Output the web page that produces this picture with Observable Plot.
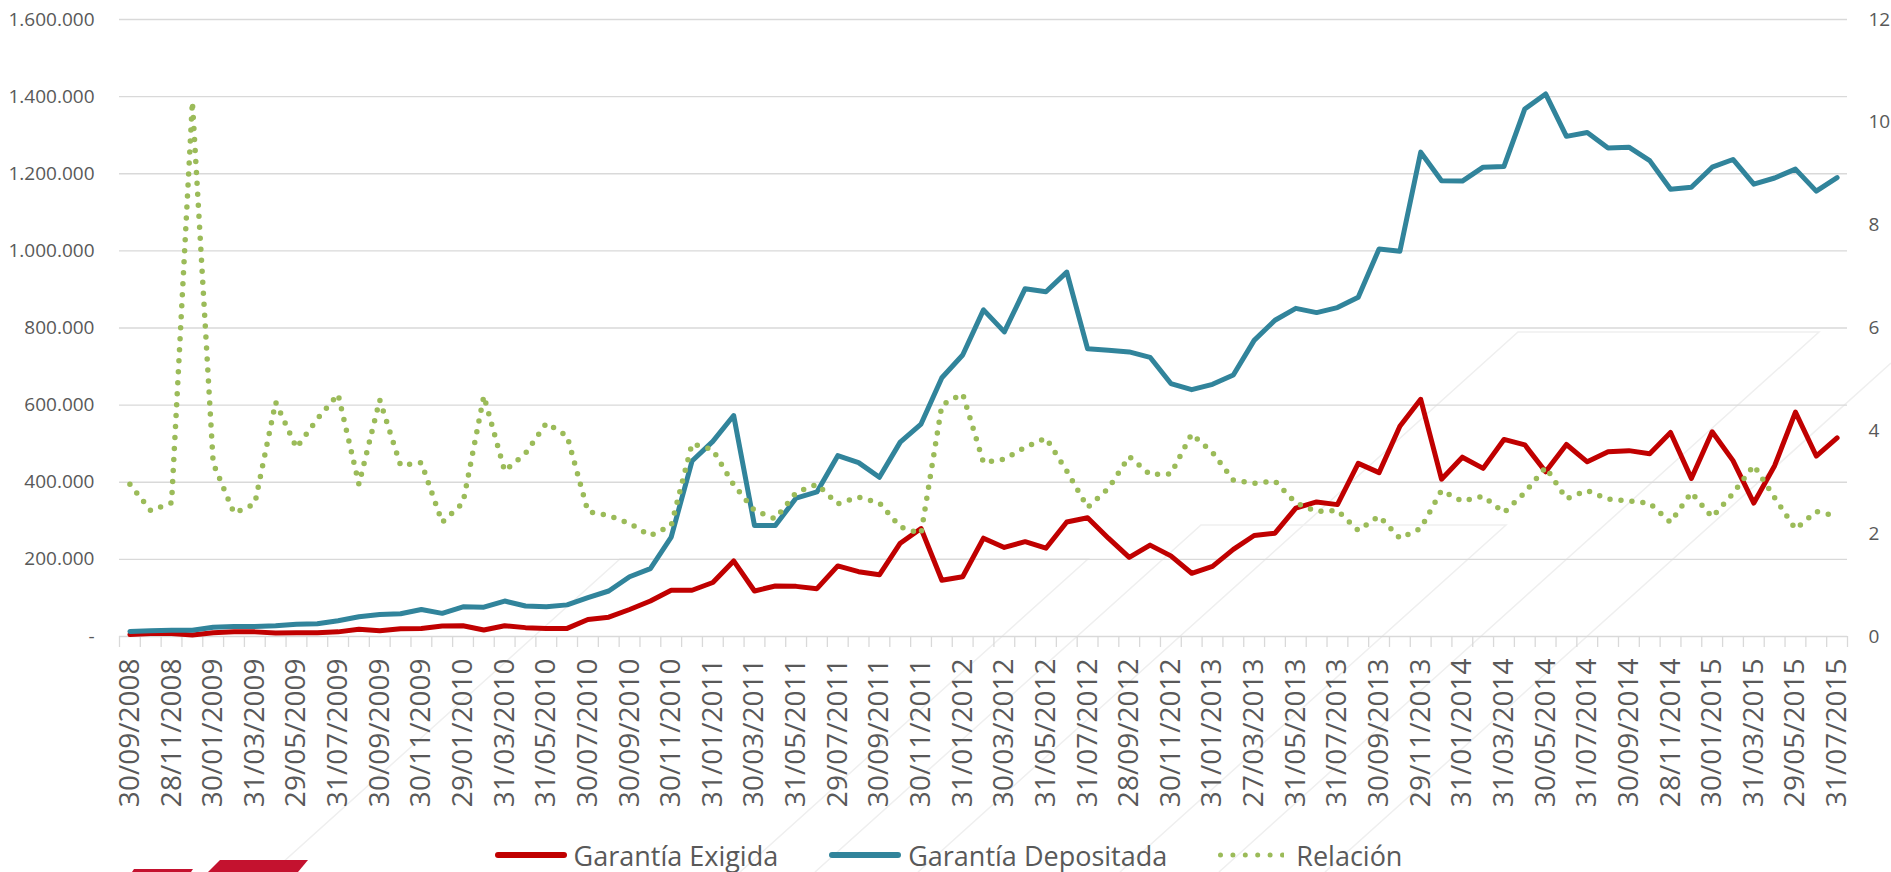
<!DOCTYPE html>
<html>
<head>
<meta charset="utf-8">
<script src="https://cdn.jsdelivr.net/npm/d3@7"></script>
<script src="https://cdn.jsdelivr.net/npm/@observablehq/plot@0.6"></script>
<style>
  html, body { margin: 0; padding: 0; background: #ffffff; }
  body { width: 1891px; height: 872px; overflow: hidden; position: relative; font-family: "Open Sans", sans-serif; }
  #chart { position: relative; }
  #chart svg { display: block; }
  #legend { position: relative; display: flex; justify-content: center; align-items: center; gap: 51px; height: 36px; padding-top: 5px; padding-left: 6px;
            font-size: 27px; color: #595959; font-family: "Open Sans", sans-serif; }
  #legend .item { display: flex; align-items: center; white-space: nowrap; }
  #legend svg { display: block; }
  .deco { position: absolute; left: 0; top: 0; pointer-events: none; }
</style>
</head>
<body>
<svg class="deco" id="watermark" width="1891" height="872" viewBox="0 0 1891 872">
  <g fill="none" stroke="#efefef" stroke-width="1.5">
    <polyline points="918,872 1518,332 1819,332 1219,872"></polyline>
    <polyline points="815,872 1201,525 1506,525 1120,872"></polyline>
    <polyline points="272,872 620,559 1088,559 740,872"></polyline>
    <polyline points="1891,363 1325,872"></polyline>
  </g>
</svg>
<div id="chart"></div>
<div id="legend"></div>
<svg class="deco" id="logo" width="1891" height="872" viewBox="0 0 1891 872">
  <polygon points="134,869 193,869 191,872 132,872" fill="#c4122f"></polygon>
  <polygon points="220,860 308,860 298,872 208,872" fill="#c4122f"></polygon>
</svg>
<script>
// ---- Category labels (month-end dates) ----
const dates = [
  "30/09/2008","31/10/2008","28/11/2008","31/12/2008","30/01/2009","27/02/2009","31/03/2009","30/04/2009",
  "29/05/2009","30/06/2009","31/07/2009","31/08/2009","30/09/2009","30/10/2009","30/11/2009","31/12/2009",
  "29/01/2010","26/02/2010","31/03/2010","30/04/2010","31/05/2010","30/06/2010","30/07/2010","31/08/2010",
  "30/09/2010","29/10/2010","30/11/2010","31/12/2010","31/01/2011","28/02/2011","30/03/2011","29/04/2011",
  "31/05/2011","30/06/2011","29/07/2011","31/08/2011","30/09/2011","31/10/2011","30/11/2011","30/12/2011",
  "31/01/2012","29/02/2012","30/03/2012","30/04/2012","31/05/2012","29/06/2012","31/07/2012","31/08/2012",
  "28/09/2012","31/10/2012","30/11/2012","31/12/2012","31/01/2013","28/02/2013","27/03/2013","30/04/2013",
  "31/05/2013","28/06/2013","31/07/2013","30/08/2013","30/09/2013","31/10/2013","29/11/2013","31/12/2013",
  "31/01/2014","28/02/2014","31/03/2014","30/04/2014","30/05/2014","30/06/2014","31/07/2014","29/08/2014",
  "30/09/2014","31/10/2014","28/11/2014","31/12/2014","30/01/2015","27/02/2015","31/03/2015","30/04/2015",
  "29/05/2015","30/06/2015","31/07/2015"
];

// ---- Series values ----
const garantiaExigida = [
  5000, 8000, 8000, 4000, 10000, 12000, 12000, 9000, 10000, 10000, 12000, 19000, 15000, 20000, 21000, 27000,
  28000, 17000, 28000, 23000, 21000, 21000, 44000, 50000, 70000,
  92000, 120000, 120000, 140000, 196000, 118000, 131000, 130000, 124000, 183000, 168000, 160000, 242000, 280000,
  146000, 155000, 255000, 231000, 246000, 229000, 297000, 308000, 255000, 205000, 237000, 209000, 164000, 182000,
  226000, 262000,
  268000, 333000, 349000, 342000, 449000, 425000, 545000, 615000, 408000, 465000, 436000, 511000, 497000, 427000,
  498000, 453000, 479000, 482000, 474000, 529000, 410000, 531000, 456000, 346000, 443000, 582000, 468000, 515000
];
const garantiaDepositada = [
  13000, 15000, 16000, 16000, 24000, 26000, 26000, 28000, 32000, 33000, 41000, 51000, 57000, 59000, 70000, 60000,
  77000, 76000, 92000, 79000, 77000, 82000, 101000, 118000, 155000,
  176000, 258000, 455000, 506000, 573000, 288000, 288000, 359000, 375000, 469000, 451000, 413000, 504000, 551000,
  671000, 730000, 847000, 790000, 902000, 894000, 945000, 746000, 742000, 738000, 724000, 656000, 640000, 654000,
  678000, 768000,
  820000, 851000, 840000, 853000, 880000, 1005000, 999000, 1256000, 1182000, 1181000, 1217000, 1219000, 1368000,
  1407000, 1297000, 1307000, 1267000, 1269000, 1234000, 1160000, 1165000, 1217000, 1237000, 1173000, 1189000,
  1212000, 1155000, 1190000
];
const relacion = [
  2.96, 2.45, 2.6, 10.4, 3.37, 2.4, 2.58, 4.56, 3.67, 4.23, 4.71, 2.96, 4.6, 3.33, 3.38, 2.22,
  2.6, 4.68, 3.22, 3.56, 4.15, 3.9, 2.43, 2.35, 2.2,
  1.96, 2.16, 3.75, 3.63, 2.95, 2.45, 2.29, 2.8, 2.96, 2.58, 2.71, 2.6, 2.13, 2.0, 4.5, 4.72, 3.38, 3.45, 3.68,
  3.86, 3.22, 2.51, 2.88, 3.5, 3.15, 3.16, 3.94, 3.58, 3.04, 2.98,
  3.02, 2.6, 2.43, 2.45, 2.06, 2.34, 1.91, 2.1, 2.84, 2.63, 2.73, 2.41, 2.8, 3.29, 2.68, 2.84, 2.67, 2.64, 2.59,
  2.22, 2.8, 2.32, 2.78, 3.33, 2.7, 2.09, 2.43, 2.34
];

// ---- Axis ticks ----
const leftTicks = [0, 200000, 400000, 600000, 800000, 1000000, 1200000, 1400000, 1600000];
const rightTicks = [0, 2, 4, 6, 8, 10, 12];

const seriesNames = ["Garantía Exigida", "Garantía Depositada", "Relación"];
const seriesColors = ["#C00000", "#31849B", "#9BBB59"];

// ---- Build table ----
const rows = dates.map((d, i) => ({
  i, date: d,
  exigida: garantiaExigida[i],
  depositada: garantiaDepositada[i],
  relacion: relacion[i]
}));

const leftMax = leftTicks[leftTicks.length - 1];
const rightMax = rightTicks[rightTicks.length - 1];
const k = leftMax / rightMax; // secondary axis mapping

const fmtLeft = v => v === 0 ? "-" : d3.format(",")(v).replace(/,/g, ".");
const edges = d3.range(dates.length + 1).map(i => i - 0.5);
const labelIdx = d3.range(0, dates.length, 2);

const W = 1891, H = 832;
const chart = Plot.plot({
  width: W,
  height: H,
  marginLeft: 119,
  marginRight: 44,
  marginTop: 19,
  marginBottom: H - 636,
  x: { domain: [-0.5, dates.length - 0.5], label: null },
  y: { domain: [0, leftMax], label: null },
  style: { fontFamily: "'Open Sans', sans-serif", color: "#595959", background: "transparent", overflow: "visible" },
  marks: [
    Plot.gridY(leftTicks, { stroke: "#d9d9d9", strokeOpacity: 1, strokeWidth: 1.3 }),
    Plot.axisY({ ticks: leftTicks, tickFormat: fmtLeft, tickSize: 0, tickPadding: 25, fontSize: 19, label: null }),
    Plot.axisY({ anchor: "right", ticks: rightTicks.map(v => v * k), tickFormat: v => String(Math.round(v / k)),
                 tickSize: 0, tickPadding: 21, fontSize: 19, label: null }),
    Plot.axisX({ ticks: edges, tickFormat: () => "", tickSize: 11, stroke: "#d9d9d9", strokeWidth: 1.3, label: null }),
    Plot.axisX({ ticks: labelIdx, tickFormat: i => dates[i], tickRotate: -90, tickSize: 0, tickPadding: 22,
                 fontSize: 28, label: null }),
    Plot.lineY(rows, { x: "i", y: "exigida", stroke: seriesColors[0], strokeWidth: 5 }),
    Plot.lineY(rows, { x: "i", y: "depositada", stroke: seriesColors[1], strokeWidth: 5 }),
    Plot.lineY(rows, { x: "i", y: d => d.relacion * k, stroke: seriesColors[2], strokeWidth: 5.5,
                       strokeDasharray: "0 11", strokeLinecap: "round" })
  ]
});
document.getElementById("chart").appendChild(chart);

// ---- Legend ----
const legend = document.getElementById("legend");
seriesNames.forEach((name, j) => {
  const item = document.createElement("div");
  item.className = "item";
  const dotted = j === 2;
  const sw = dotted ? 66 : 72;
  const svgNS = "http://www.w3.org/2000/svg";
  const s = document.createElementNS(svgNS, "svg");
  s.setAttribute("width", sw);
  s.setAttribute("height", 14);
  const ln = document.createElementNS(svgNS, "line");
  ln.setAttribute("x1", dotted ? 2.5 : 3);
  ln.setAttribute("x2", dotted ? 64.5 : sw - 3);
  ln.setAttribute("y1", 7);
  ln.setAttribute("y2", 7);
  ln.setAttribute("stroke", seriesColors[j]);
  ln.setAttribute("stroke-width", dotted ? 5 : 6);
  ln.setAttribute("stroke-linecap", "round");
  if (dotted) ln.setAttribute("stroke-dasharray", "0 12.4");
  s.appendChild(ln);
  s.style.marginRight = dotted ? "12px" : "7px";
  const t = document.createElement("span");
  t.textContent = name;
  item.appendChild(s);
  item.appendChild(t);
  legend.appendChild(item);
});
</script>
</body>
</html>
